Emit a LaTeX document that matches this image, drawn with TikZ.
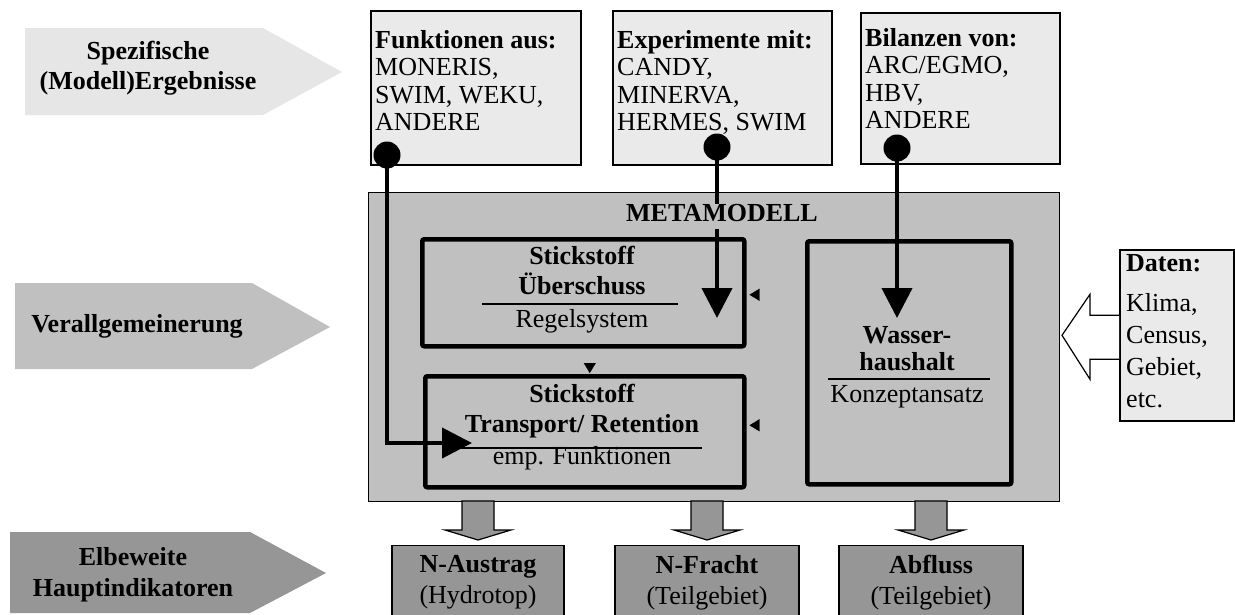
\documentclass[tikz,border=0pt]{standalone}
\usepackage{fontspec}
\setmainfont{Liberation Serif}
\usetikzlibrary{arrows.meta}

\definecolor{paleGray}{HTML}{EAEAEA}
\definecolor{pointGray}{HTML}{E6E6E6}
\definecolor{midGray}{HTML}{C0C0C0}
\definecolor{darkGray}{HTML}{969696}

\tikzset{
  txt/.style={inner sep=0pt, font=\fontsize{26}{30}\selectfont},
  head/.style={inner sep=0pt, font=\bfseries\fontsize{26}{30}\selectfont},
  srcbox/.style={draw, line width=1.6pt, fill=paleGray, anchor=north west, inner sep=0pt},
  srctext/.style={inner sep=0pt, anchor=north west, align=left, font=\fontsize{26}{27.5}\selectfont},
  modbox/.style={draw, line width=4.5pt, rounded corners=2pt, anchor=north west, inner sep=0pt},
  outbox/.style={draw, line width=1.2pt, fill=darkGray, anchor=north, inner xsep=0pt, inner ysep=10pt, align=center, font=\fontsize{26}{31}\selectfont},
  flow/.style={line width=4pt, -{Triangle[length=30pt,width=30pt]}},
  tick/.style={line width=0.2pt, -{Triangle[length=10pt,width=12pt]}},
  dot/.style={circle, fill, inner sep=0pt, minimum size=27pt},
  blockarrow/.style={draw, line width=1.2pt, fill=darkGray},
}

\begin{document}
\begin{tikzpicture}[x=1pt, y=-1pt]
\useasboundingbox (0,0) rectangle (1235,614);

\fill[pointGray] (25,28) -- (263,28) -- (342,72) -- (263,115) -- (25,115) -- cycle;
\fill[midGray] (15,283) -- (252,283) -- (330,327) -- (252,369) -- (15,369) -- cycle;
\fill[darkGray] (10,532) -- (250,532) -- (326,573) -- (250,613) -- (10,613) -- cycle;
\node[head, anchor=north, align=center] (spez) at (148,41) {Spezifische\\(Modell)Ergebnisse};
\node[head, anchor=base] (verall) at (137,332) {Verallgemeinerung};
\node[head, anchor=north, align=center, font=\bfseries\fontsize{26}{31}\selectfont] (elbe) at (133,547) {Elbeweite\\Hauptindikatoren};

\node[srcbox, minimum width=210pt, minimum height=154pt] (funk) at (370,10) {};
\node[srcbox, minimum width=219pt, minimum height=154pt] (expe) at (612,10) {};
\node[srcbox, minimum width=199pt, minimum height=151pt] (bila) at (860,12) {};
\node[srctext] (funkT) at (375,30) {\textbf{Funktionen aus:}\\MONERIS,\\SWIM, WEKU,\\ANDERE};
\node[srctext] (expeT) at (617,30) {\textbf{Experimente mit:}\\CANDY,\\MINERVA,\\HERMES, SWIM};
\node[srctext] (bilaT) at (865,28) {\textbf{Bilanzen von:}\\ARC/EGMO,\\HBV,\\ANDERE};

\node[draw, line width=1.2pt, fill=midGray, anchor=north west, minimum width=691pt, minimum height=309pt, inner sep=0pt] (meta) at (368,192) {};

\node[outbox, minimum width=172pt] (aus) at (478,545) {\textbf{N-Austrag}\\(Hydrotop)};
\node[outbox, minimum width=184pt] (fracht) at (707,545) {\textbf{N-Fracht}\\(Teilgebiet)};
\node[outbox, minimum width=184pt] (abfl) at (931,545) {\textbf{Abfluss}\\(Teilgebiet)};
\foreach \t in {aus,fracht,abfl}
  \draw[blockarrow] ([yshift=5pt]\t.north) -- ++(-33,-10) -- ++(17,0) -- ++(0,-29) -- ++(32,0) -- ++(0,29) -- ++(17,0) -- cycle;

\node[modbox, minimum width=322pt, minimum height=107pt] (ueber) at (420,237) {};
\node[modbox, minimum width=319pt, minimum height=111pt] (trans) at (423,374) {};
\node[modbox, minimum width=204pt, minimum height=243pt] (wasser) at (805,239) {};

\node[head, anchor=north, align=center] (ueberT) at (582,246) {Stickstoff\\Überschuss};
\draw[line width=1.2pt] (482,304) -- (678,304);
\node[txt, anchor=base] (ueberS) at (582,327) {Regelsystem};
\node[head, anchor=north, align=center] (transT) at (582,384) {Stickstoff\\Transport/ Retention};
\draw[line width=1.2pt] (460,448) -- (702,448);
\node[txt, anchor=base] (transS) at (582,464) {emp. Funktionen};
\node[head, anchor=north, align=center, font=\bfseries\fontsize{26}{27}\selectfont] (wasserT) at (907,326) {Wasser-\\haushalt};
\draw[line width=1.2pt] (828,379) -- (990,379);
\node[txt, anchor=base] (wasserS) at (907,402) {Konzeptansatz};

\coordinate (k1) at ([yshift=-2pt]ueber.east);
\coordinate (k2) at ([yshift=6.5pt]trans.east);
\coordinate (k3) at ([xshift=5pt]trans.north);
\draw[tick, shorten <=49pt, shorten >=3pt] (wasser.west |- k1) -- (k1);
\draw[tick, shorten <=49pt, shorten >=3pt] (wasser.west |- k2) -- (k2);
\draw[tick, shorten <=19pt, shorten >=1pt] (ueber.south -| k3) -- (k3);

\node[dot] (d1) at (387,155) {};
\node[dot] (d2) at (717,147) {};
\node[dot] (d3) at (897,148) {};
\coordinate (t1) at (472,443);
\coordinate (t2) at (717,318);
\coordinate (t3) at (897,318);
\draw[flow] (d1.center) |- (t1);
\draw[flow] (d2.center) -- (t2);
\draw[flow] (d3.center) -- (t3);
\node[head, anchor=base, fill=midGray, text depth=8pt] (metaT) at (722,221) {METAMODELL};

\node[srcbox, minimum width=114pt, minimum height=171pt] (daten) at (1119,249) {};
\node[srctext, font=\fontsize{26}{32}\selectfont] (datenT) at (1126,254) {\textbf{Daten:}\\[8pt]Klima,\\Census,\\Gebiet,\\etc.};
\draw[line width=1.2pt, fill=white] ([yshift=20pt]daten.west) -- ++(-29,0) -- ++(0,-21) -- ++(-28,41) -- ++(28,44) -- ++(0,-20) -- ++(29,0);
\end{tikzpicture}
\end{document}
